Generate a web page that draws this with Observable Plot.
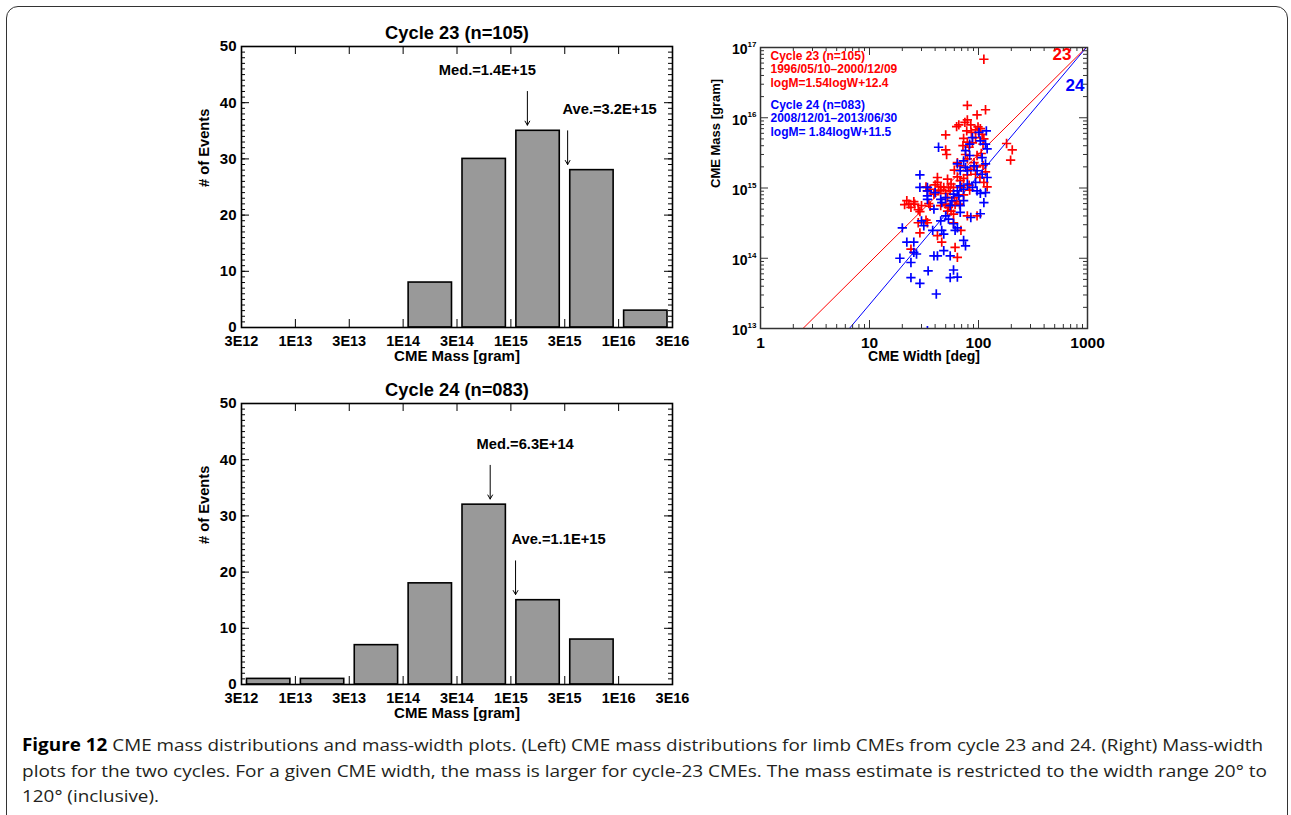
<!DOCTYPE html>
<html><head><meta charset="utf-8">
<script src="https://cdn.jsdelivr.net/npm/d3@7"></script>
<script src="https://cdn.jsdelivr.net/npm/@observablehq/plot@0.6"></script>
<style>
html,body{margin:0;padding:0;background:#fff;}
#page{position:relative;width:1291px;height:815px;overflow:hidden;background:#fff;}
.box{position:absolute;left:6px;top:6px;width:1282px;height:900px;border:1.5px solid #333;border-radius:12px;box-sizing:border-box;}
.chart{position:absolute;}
#caption{position:absolute;left:22px;top:732px;font-family:"Open Sans","Noto Sans",sans-serif;font-size:17px;line-height:25.5px;color:#231f20;}
#caption div{white-space:nowrap;width:max-content;transform-origin:0 50%;}
#caption b{color:#000;}
</style></head><body>
<div id="page">
  <div class="box"></div>
  <div id="h23" class="chart" style="left:190px;top:10px"></div>
  <div id="h24" class="chart" style="left:190px;top:365px"></div>
  <div id="sc" class="chart" style="left:690px;top:10px"></div>
  <div id="caption">
    <div><b>Figure 12</b> CME mass distributions and mass-width plots. (Left) CME mass distributions for limb CMEs from cycle 23 and 24. (Right) Mass-width</div>
    <div>plots for the two cycles. For a given CME width, the mass is larger for cycle-23 CMEs. The mass estimate is restricted to the width range 20° to</div>
    <div>120° (inclusive).</div>
  </div>
</div>
<script>
// ---------------- data ----------------
const massTickLabels = ["3E12","1E13","3E13","1E14","3E14","1E15","3E15","1E16","3E16"];
const massTickValues = [3e12,1e13,3e13,1e14,3e14,1e15,3e15,1e16,3e16];
const counts23 = [0,0,0,8,30,35,28,3];
const counts24 = [1,1,7,18,32,15,8,0];
const histTitles = ["Cycle 23 (n=105)","Cycle 24 (n=083)"];
const medians = [1.4e15, 6.3e14];
const averages = [3.2e15, 1.1e15];
const medianLabels = ["Med.=1.4E+15","Med.=6.3E+14"];
const averageLabels = ["Ave.=3.2E+15","Ave.=1.1E+15"];

const cycle23Width = [112,79,116,97,79,75,63,66,85,99,104,94,86,50,73,79,72,82,112,110,50,51,181,204,197,76,79,91,96,110,116,60,64,68,73,79,94,103,112,52,56,53,42,45,48,43,40,33,34,36,50,52,60,63,67,73,22,23,25.5,21,24,28,29,35,36,45,50,53,61,56,59,28,33,34,97,29,42,46,69,61,64,24,120,82,83,42,45,26,64,68,85,97,106,88,94,78,108,55,39,70,59,52,30,79,59];
const cycle23Mass = [6.8e16,1.5e16,1.3e16,1.1e16,9.3e15,8.6e15,7.5e15,7.9e15,7.9e15,7.4e15,7.0e15,6.7e15,6.2e15,5.7e15,5.1e15,4.5e15,4.0e15,3.8e15,5.0e15,4.2e15,3.5e15,3.0e15,4.3e15,3.5e15,2.5e15,3.0e15,2.6e15,2.3e15,2.0e15,2.1e15,1.7e15,1.8e15,1.44e15,1.27e15,1.37e15,1.54e15,1.57e15,1.41e15,1.2e15,1.34e15,1.14e15,1.02e15,1.2e15,1.04e15,1.02e15,9.1e14,1.11e15,1.04e15,9.1e14,9.6e14,8.4e14,7.3e14,7.3e14,6.4e14,5.9e14,8.0e14,6.6e14,5.9e14,6.4e14,5.8e14,5.3e14,4.9e14,4.6e14,6.0e14,5.5e14,5.6e14,5.9e14,5.3e14,5.8e14,4.7e14,4.25e14,3.2e14,3.5e14,3.2e14,4.0e14,2.3e14,2.1e14,1.7e14,2.5e14,1.43e14,1.03e14,1.35e14,1.04e15,1.1e15,9.3e14,1.41e15,9.3e14,5.9e14,2.3e15,2.07e15,1.85e15,2.9e15,3.1e15,4.4e15,5.2e15,6.5e15,5.8e15,9.1e14,8.2e14,1.02e15,1.02e15,4.7e14,5.6e14,4.0e14,3.2e14];
const cycle24Width = [101,118,88,104,116,120,83,76,73,83,43,64,68,76,91,108,116,120,108,97,79,73,68,64,66,73,68,59,57,88,97,104,116,94,29,34,34,34,34,40,45,46,50,53,39,59,61,64,73,76,85,104,112,45,38,46,48,20,19,22,25.5,25.5,27,24,30,31.5,39,42,48,55,59,64,55,34.5,24,29,41,29,50,55,79,34,68];
const cycle24Mass = [6.2e15,6.5e15,5.2e15,4.7e15,4.2e15,3.6e15,4.2e15,3.4e15,2.44e15,2.9e15,3.8e15,2.2e15,1.76e15,1.96e15,2.07e15,2.7e15,2.2e15,1.41e15,1.57e15,1.76e15,1.14e15,9.6e14,1.07e15,9.1e14,7.7e14,6.6e14,5.6e14,8.2e14,6.6e14,1.02e15,9.1e14,8.4e14,8.6e14,1.2e15,1.54e15,1.02e15,9.1e14,7.7e14,6.9e14,8.6e14,6.9e14,6.2e14,4.0e14,3.6e14,5.0e14,3.1e14,2.5e14,2.7e14,1.8e14,1.5e14,3.8e14,4.3e14,6.2e14,3.4e14,2.5e14,2.5e14,2.2e14,2.7e14,1.0e14,1.7e14,1.7e14,1.21e14,1.15e14,8.7e13,3.4e14,2.9e14,1.08e14,1.08e14,1.28e14,1.08e14,6.8e13,5.4e13,5.3e13,6.6e13,5.3e13,4.4e13,3.1e13,1.02e15,7.3e14,5.6e14,1.76e15,9.3e12,4.5e14];
const fitSlopes = [1.54, 1.84];
const fitIntercepts = [12.4, 11.5];
const scatterLegend23 = ["Cycle 23 (n=105)","1996/05/10–2000/12/09","logM=1.54logW+12.4"];
const scatterLegend24 = ["Cycle 24 (n=083)","2008/12/01–2013/06/30","logM= 1.84logW+11.5"];
const widthTicks = [1,10,100,1000];
const massDecades = [1e13,1e14,1e15,1e16,1e17];

// ---------------- helpers ----------------
const FONT = "'Liberation Sans', Arial, Helvetica, sans-serif";
const baseStyle = {fontFamily: FONT, fontWeight: "bold", fontSize: "14px", color: "black", background: "transparent", overflow: "visible"};

function massIndex(m) {
  for (let i = 0; i < massTickValues.length - 1; i++) {
    const a = massTickValues[i], b = massTickValues[i + 1];
    if (m >= a && m < b) return i + Math.log(m / a) / Math.log(b / a);
  }
  return massTickValues.length - 1;
}

function histogram(el, counts, title, med, medLabel, ave, aveLabel, medDx, aveDx, mt) {
  const W = 500, H = 365, ml = 51, mr = 18, mb = H - mt - 281;
  const pw = W - ml - mr, ph = H - mt - mb;
  const bins = counts.map((c, i) => ({i, c})).filter(d => d.c > 0);
  const mk = (m, label) => {
    const x = massIndex(m);
    const tip = counts[Math.floor(x)] + 1;
    return {x, label, tip, tail: tip + 6, ty: tip + 9.8};
  };
  const aMed = mk(med, medLabel), aAve = mk(ave, aveLabel);
  const major = d3.range(0, 51, 10), minor = d3.range(0, 51, 1);
  const xt = d3.range(0, 9);
  const chart = Plot.plot({
    width: W, height: H, marginLeft: ml, marginRight: mr, marginTop: mt, marginBottom: mb,
    style: baseStyle,
    x: {domain: [0, 8], axis: null},
    y: {domain: [0, 50], axis: null},
    marks: [
      Plot.rectY(bins, {x1: d => d.i, x2: d => d.i + 1, y: "c", fill: "#999999", stroke: "black", strokeWidth: 1.6, insetLeft: 5.5, insetRight: 5}),
      Plot.tickY(minor, {y: d => d, insetRight: pw - 4, stroke: "black"}),
      Plot.tickY(minor, {y: d => d, insetLeft: pw - 4, stroke: "black"}),
      Plot.tickY(major, {y: d => d, insetRight: pw - 8, stroke: "black"}),
      Plot.tickY(major, {y: d => d, insetLeft: pw - 8, stroke: "black"}),
      Plot.tickX(xt, {x: d => d, insetTop: ph - 8, stroke: "black"}),
      Plot.tickX(xt, {x: d => d, insetBottom: ph - 8, stroke: "black"}),
      Plot.frame({stroke: "black", strokeWidth: 1.6}),
      Plot.axisY({ticks: major, tickSize: 0, tickPadding: 5, label: null, fontSize: 15}),
      Plot.axisX({ticks: xt, tickFormat: i => massTickLabels[i], tickSize: 0, tickPadding: 8, label: null, fontSize: 14.5}),
      Plot.arrow([aMed, aAve], {x1: "x", x2: "x", y1: "tail", y2: "tip", stroke: "black", strokeWidth: 1, headLength: 7, headAngle: 60}),
      Plot.text([aMed], {x: "x", y: "ty", text: "label", dx: medDx, fontSize: 14.7, lineAnchor: "middle"}),
      Plot.text([aAve], {x: "x", y: "ty", text: "label", dx: aveDx, fontSize: 14.7, lineAnchor: "middle"}),
      Plot.text([title], {frameAnchor: "top", dy: -13.5, fontSize: 18.3, lineAnchor: "middle"}),
      Plot.text(["CME Mass [gram]"], {frameAnchor: "bottom", dy: 29, fontSize: 15, lineAnchor: "middle"}),
      Plot.text(["# of Events"], {frameAnchor: "left", dx: -37, rotate: -90, fontSize: 14.7, lineAnchor: "middle"})
    ]
  });
  document.getElementById(el).appendChild(chart);
}

histogram("h23", counts23, histTitles[0], medians[0], medianLabels[0], averages[0], averageLabels[0], -40, 42, 36);
histogram("h24", counts24, histTitles[1], medians[1], medianLabels[1], averages[1], averageLabels[1], 35, 43, 38);

// ---------------- scatter ----------------
(function () {
  const W = 420, H = 365, ml = 70, mr = 23, mt = 37, mb = 47;
  const pw = W - ml - mr, ph = H - mt - mb;
  const pts23 = cycle23Width.map((w, i) => ({w, m: cycle23Mass[i]}));
  const pts24 = cycle24Width.map((w, i) => ({w, m: cycle24Mass[i]}));
  const fitLine = k => [1, 1000].map(w => ({w, m: Math.pow(10, fitSlopes[k] * Math.log10(w) + fitIntercepts[k])}));
  const xMinor = [], yMinor = [];
  [1, 10, 100].forEach(d => { for (let k = 2; k <= 9; k++) xMinor.push(k * d); });
  [1e13, 1e14, 1e15, 1e16].forEach(d => { for (let k = 2; k <= 9; k++) yMinor.push(k * d); });
  const red = "#ff0000", blue = "#0000ff";
  const chart = Plot.plot({
    width: W, height: H, marginLeft: ml, marginRight: mr, marginTop: mt, marginBottom: mb,
    style: baseStyle,
    x: {type: "log", domain: [1, 1000], axis: null},
    y: {type: "log", domain: [1e13, 1e17], axis: null},
    marks: [
      Plot.line(fitLine(0), {x: "w", y: "m", stroke: red, strokeWidth: 1, clip: true}),
      Plot.line(fitLine(1), {x: "w", y: "m", stroke: blue, strokeWidth: 1, clip: true}),
      Plot.dot(pts23, {x: "w", y: "m", symbol: "plus", r: 3.1, stroke: red, strokeWidth: 1.7, clip: true}),
      Plot.dot(pts24, {x: "w", y: "m", symbol: "plus", r: 3.1, stroke: blue, strokeWidth: 1.7, clip: true}),
      Plot.tickX(xMinor, {x: d => d, insetTop: ph - 4, stroke: "#333"}),
      Plot.tickX(xMinor, {x: d => d, insetBottom: ph - 4, stroke: "#333"}),
      Plot.tickX(widthTicks, {x: d => d, insetTop: ph - 8, stroke: "#333"}),
      Plot.tickX(widthTicks, {x: d => d, insetBottom: ph - 8, stroke: "#333"}),
      Plot.tickY(yMinor, {y: d => d, insetRight: pw - 4, stroke: "#333"}),
      Plot.tickY(yMinor, {y: d => d, insetLeft: pw - 4, stroke: "#333"}),
      Plot.tickY(massDecades, {y: d => d, insetRight: pw - 8, stroke: "#333"}),
      Plot.tickY(massDecades, {y: d => d, insetLeft: pw - 8, stroke: "#333"}),
      Plot.frame({stroke: "#333", strokeWidth: 1.5}),
      Plot.axisX({ticks: widthTicks, tickFormat: d => String(d), tickSize: 0, tickPadding: 8, label: null, fontSize: 15.5}),
      Plot.text(massDecades, {y: d => d, frameAnchor: "left", text: () => "10", textAnchor: "end", lineAnchor: "middle", dx: -13, dy: 2.5, fontSize: 14}),
      Plot.text(massDecades, {y: d => d, frameAnchor: "left", text: d => String(Math.round(Math.log10(d))), textAnchor: "start", lineAnchor: "middle", dx: -13, dy: -3, fontSize: 8}),
      Plot.text(["CME Width [deg]"], {frameAnchor: "bottom", dy: 28.5, fontSize: 14, lineAnchor: "middle"}),
      Plot.text(["CME Mass [gram]"], {frameAnchor: "left", dx: -45, rotate: -90, fontSize: 13, lineAnchor: "middle"}),
      ...scatterLegend23.map((t, i) => Plot.text([t], {frameAnchor: "top-left", textAnchor: "start", lineAnchor: "middle", dx: 10, dy: 8.5 + 13.6 * i, fill: red, fontSize: 12})),
      ...scatterLegend24.map((t, i) => Plot.text([t], {frameAnchor: "top-left", textAnchor: "start", lineAnchor: "middle", dx: 10, dy: 57.5 + 13.5 * i, fill: blue, fontSize: 12})),
      Plot.text(["23"], {frameAnchor: "top-right", textAnchor: "end", lineAnchor: "middle", dx: -16, dy: 7.5, fill: red, fontSize: 17}),
      Plot.text(["24"], {frameAnchor: "top-right", textAnchor: "end", lineAnchor: "middle", dx: -3, dy: 38.5, fill: blue, fontSize: 17})
    ]
  });
  document.getElementById("sc").appendChild(chart);
})();

// ---------------- caption fit ----------------
(function () {
  const lines = document.querySelectorAll("#caption div");
  const targets = [1241, 1245];
  const k0 = targets[0] / lines[0].getBoundingClientRect().width;
  lines.forEach((l, i) => {
    const k = i < targets.length ? targets[i] / l.getBoundingClientRect().width : k0;
    l.style.transform = `scaleX(${k})`;
  });
})();
</script>
</body></html>
